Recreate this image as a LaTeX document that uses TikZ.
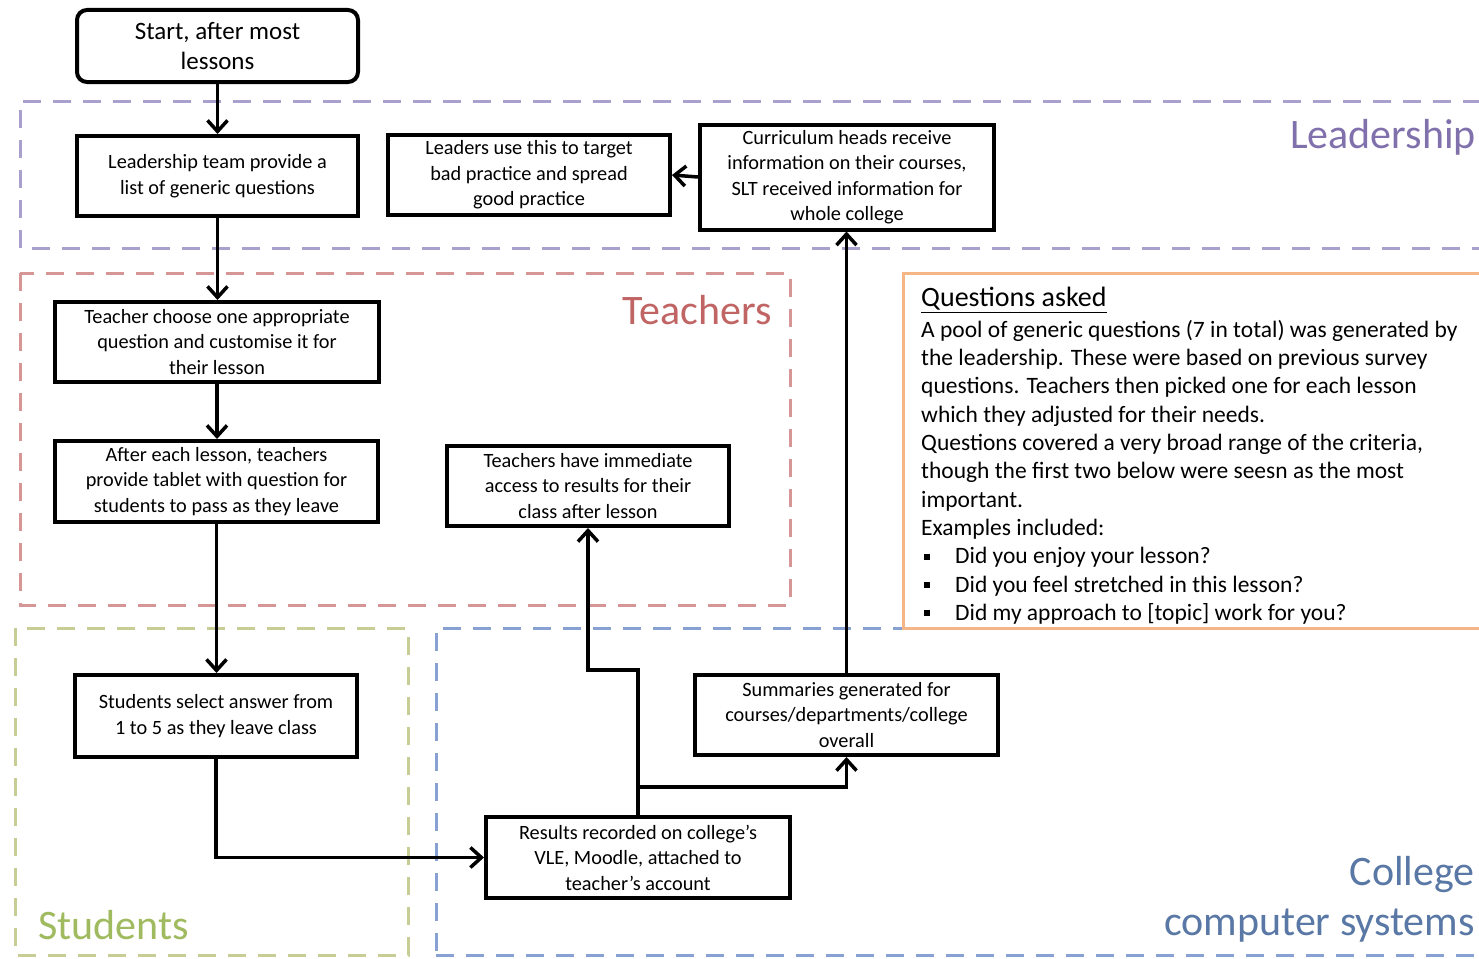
\documentclass[tikz,border=0pt]{standalone}
\usepackage{fontspec}
\setmainfont{Carlito}
\usetikzlibrary{arrows.meta}
\definecolor{leadC}{RGB}{170,160,205}
\definecolor{leadT}{RGB}{128,112,172}
\definecolor{teachC}{RGB}{215,150,150}
\definecolor{teachT}{RGB}{192,100,100}
\definecolor{studC}{RGB}{200,205,150}
\definecolor{studT}{RGB}{160,187,95}
\definecolor{collC}{RGB}{135,162,210}
\definecolor{collT}{RGB}{90,120,165}
\definecolor{qC}{RGB}{245,182,135}
\newcommand\bxfont{\fontsize{20.3}{25.5}\selectfont}
\newcommand\startfont{\fontsize{25}{30}\selectfont}
\newcommand\regfont{\fontsize{42}{50}\selectfont}
\newcommand\qfont{\fontsize{23.5}{28.3}\selectfont}
\newcommand\qhfont{\fontsize{28}{32}\selectfont}
\newcommand\qbul{\makebox[34pt][l]{\hspace{3pt}\rule[4pt]{6pt}{6pt}}}
\tikzset{
  stepbox/.style={draw, line width=4pt, fill=white, align=center, font=\bxfont, inner sep=0pt},
  region/.style={line width=3pt, dash pattern=on 18pt off 12pt},
  arr/.style={line width=3.5pt, -{Straight Barb[length=11pt,width=20pt,line width=3.5pt]}},
  reglabel/.style={font=\regfont, inner sep=0pt}
}
\begin{document}
\begin{tikzpicture}[x=1pt,y=-1pt]
\useasboundingbox (0,0) rectangle (1479,958);
\fill[white] (0,0) rectangle (1479,958);
% regions
\draw[region, leadC] (1481,101) -- (20,101) -- (20,248) -- (1481,248);
\draw[region, teachC] (20,273) rectangle (790,605);
\draw[region, studC] (15,628) rectangle (408,955);
\draw[region, collC] (1481,628) -- (436,628) -- (436,958);
\draw[region, collC] (436,955) -- (1481,955);
% questions box
\fill[white] (903,273) rectangle (1481,628);
\draw[line width=3pt, qC] (1481,273) -- (903,273) -- (903,628) -- (1481,628);
\node[anchor=north west, inner sep=0pt] (qhead) at (921,287) {\qhfont\underline{Questions asked}};
\node[anchor=north west, inner sep=0pt, align=left, font=\qfont] (qtext) at (921,320) {%
A pool of generic questions (7 in total) was generated by\\
the leadership. These were based on previous survey\\
questions. Teachers then picked one for each lesson\\
which they adjusted for their needs.\\
Questions covered a very broad range of the criteria,\\
though the first two below were seesn as the most\\
important.\\
Examples included:\\
\qbul Did you enjoy your lesson?\\
\qbul Did you feel stretched in this lesson?\\
\qbul Did my approach to [topic] work for you?};
% region labels
\node[reglabel, leadT, anchor=east] (lLead) at (1476,137) {Leadership};
\node[reglabel, teachT, anchor=east] (lTeach) at (772,310) {Teachers};
\node[reglabel, studT, anchor=west] (lStud) at (38,925) {Students};
\node[reglabel, collT, anchor=east] (lColl1) at (1475,875) {College};
\node[reglabel, collT, anchor=east] (lColl2) at (1475,926) {computer systems};
% boxes
\node[stepbox, rounded corners=10pt, minimum width=281pt, minimum height=72pt, font=\startfont] (start) at (217.5,46) {Start, after most\\lessons};
\node[stepbox, minimum width=281pt, minimum height=80pt] (lead) at (217.5,176) {Leadership team provide a\\list of generic questions};
\node[stepbox, minimum width=282pt, minimum height=80pt] (leaders) at (529,175) {Leaders use this to target\\bad practice and spread\\good practice};
\node[stepbox, minimum width=294pt, minimum height=105pt] (curr) at (847,177) {Curriculum heads receive\\information on their courses,\\SLT received information for\\whole college};
\node[stepbox, minimum width=324pt, minimum height=80pt] (tchoose) at (217,342) {Teacher choose one appropriate\\question and customise it for\\their lesson};
\node[stepbox, minimum width=323pt, minimum height=81pt] (after) at (216.5,481.5) {After each lesson, teachers\\provide tablet with question for\\students to pass as they leave};
\node[stepbox, minimum width=282pt, minimum height=80pt] (timm) at (588,486) {Teachers have immediate\\access to results for their\\class after lesson};
\node[stepbox, minimum width=282pt, minimum height=82pt] (stud) at (216,716) {Students select answer from\\1 to 5 as they leave class};
\node[stepbox, minimum width=303pt, minimum height=80pt] (summ) at (846.5,715) {Summaries generated for\\courses/departments/college\\overall};
\node[stepbox, minimum width=304pt, minimum height=81pt] (res) at (638,857.5) {Results recorded on college's\\VLE, Moodle, attached to\\teacher's account};
% connectors
\coordinate (h1) at (0,670);
\coordinate (h2) at (0,787);
\draw[arr] (start.south) -- (lead.north);
\draw[arr] (lead.south) -- (lead.south |- tchoose.north);
\draw[arr] (tchoose.south) -- (tchoose.south |- after.north);
\draw[arr] (after.south) -- (after.south |- stud.north);
\draw[arr] (stud.south) |- (res.west);
\draw[arr] (res.north) -- (res.north |- h1) -| (timm.south);
\draw[arr] (res.north |- h2) -| (summ.south);
\draw[arr] (summ.north) -- (summ.north |- curr.south);
\draw[arr] (curr.west) -- (leaders.east);
\end{tikzpicture}
\end{document}
